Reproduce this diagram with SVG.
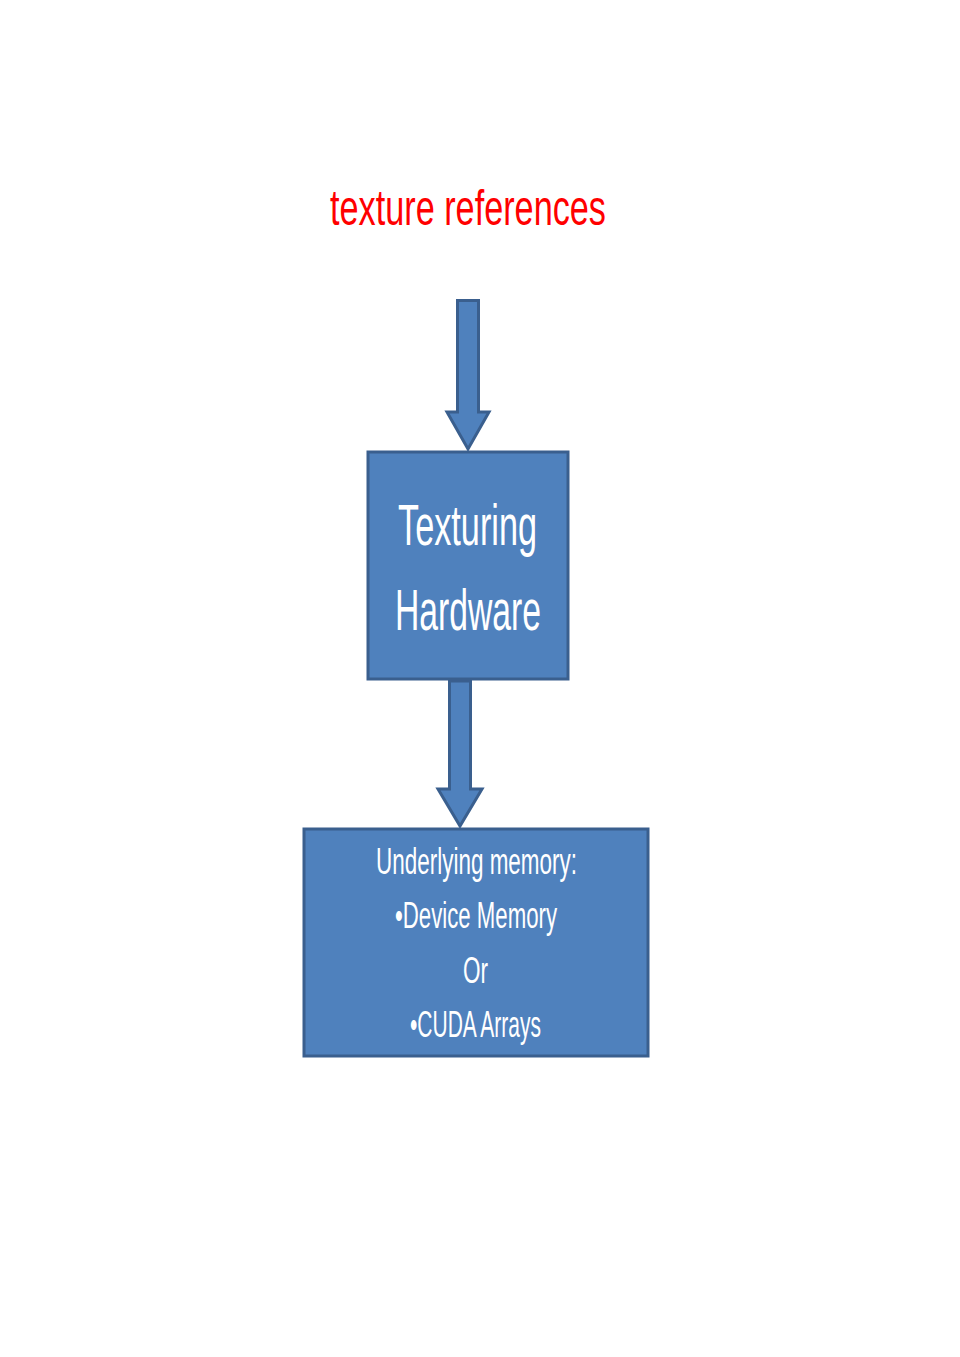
<svg xmlns="http://www.w3.org/2000/svg" width="960" height="1357" viewBox="0 0 960 1357">
<style>
.box{fill:#4f81bd;stroke:#3a5f8e;stroke-width:3}
.arr{fill:#4f81bd;stroke:#3a5f8e;stroke-width:3;stroke-linejoin:miter}
.t{font-family:"Liberation Sans",Arial,sans-serif;fill:#ffffff}
.title{font-family:"Liberation Sans",Arial,sans-serif;fill:#ff0000;font-size:50px}
</style>
<rect width="960" height="1357" fill="#ffffff"/>
<text class="title" x="330" y="225" textLength="276" lengthAdjust="spacingAndGlyphs">texture references</text>
<g id="connectors">
<path class="arr" d="M457.5,300.5 H478.5 V412 H489 L468,449 L447,412 H457.5 Z"/>
<path class="arr" d="M449.5,681 H470.5 V789 H482 L460,826 L438,789 H449.5 Z"/>
</g>
<g id="texturing-hardware">
<rect class="box" x="368" y="452" width="200" height="227"/>
<text class="t" x="398" y="545" font-size="58" textLength="139" lengthAdjust="spacingAndGlyphs">Texturing</text>
<text class="t" x="395" y="630" font-size="58" textLength="146" lengthAdjust="spacingAndGlyphs">Hardware</text>
</g>
<g id="underlying-memory">
<rect class="box" x="304" y="829" width="344" height="227"/>
<text class="t" x="376" y="874" font-size="36" textLength="201" lengthAdjust="spacingAndGlyphs">Underlying memory:</text>
<text class="t" x="395" y="928" font-size="36" textLength="162" lengthAdjust="spacingAndGlyphs">•Device Memory</text>
<text class="t" x="463" y="983" font-size="36" textLength="25" lengthAdjust="spacingAndGlyphs">Or</text>
<text class="t" x="410" y="1037" font-size="36" textLength="131" lengthAdjust="spacingAndGlyphs">•CUDA Arrays</text>
</g>
</svg>
